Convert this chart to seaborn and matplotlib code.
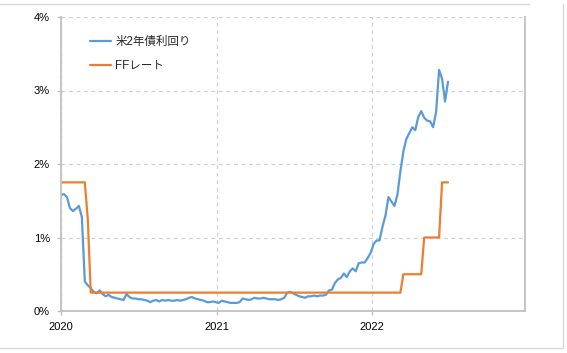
import matplotlib
matplotlib.use('Agg')
import matplotlib.pyplot as plt
import matplotlib.dates as mdates
from matplotlib.lines import Line2D
from matplotlib.ticker import FuncFormatter, MultipleLocator
import pandas as pd
import seaborn as sns

# Data (weekly, Wednesdays, in %)
start_date = '2020-01-01'
n_weeks = 131
yield_2y = [
    1.58, 1.59, 1.55, 1.40, 1.36, 1.39, 1.43, 1.28, 0.40, 0.35,
    0.31, 0.26, 0.24, 0.28, 0.23, 0.20, 0.22, 0.19, 0.18, 0.17,
    0.16, 0.15, 0.23, 0.19, 0.17, 0.17, 0.16, 0.16, 0.15, 0.14,
    0.12, 0.14, 0.15, 0.13, 0.15, 0.14, 0.15, 0.14, 0.14, 0.15,
    0.14, 0.15, 0.16, 0.18, 0.19, 0.17, 0.16, 0.15, 0.14, 0.12,
    0.12, 0.13, 0.12, 0.11, 0.14, 0.13, 0.12, 0.11, 0.11, 0.11,
    0.12, 0.17, 0.16, 0.15, 0.16, 0.18, 0.17, 0.17, 0.18, 0.17,
    0.16, 0.16, 0.16, 0.15, 0.16, 0.18, 0.25, 0.26, 0.24, 0.22,
    0.20, 0.19, 0.18, 0.20, 0.20, 0.21, 0.20, 0.21, 0.21, 0.22,
    0.28, 0.29, 0.38, 0.43, 0.45, 0.51, 0.46, 0.54, 0.58, 0.54,
    0.65, 0.66, 0.66, 0.72, 0.79, 0.91, 0.96, 0.96, 1.15, 1.30,
    1.55, 1.49, 1.43, 1.58, 1.90, 2.17, 2.34, 2.42, 2.50, 2.46,
    2.64, 2.72, 2.63, 2.59, 2.58, 2.50, 2.71, 3.28, 3.16, 2.85,
    3.12,
]

ff_dates = ['2020-01-01', '2020-02-26', '2020-03-04', '2020-03-11',
            '2022-03-09', '2022-03-16', '2022-04-27', '2022-05-04',
            '2022-06-08', '2022-06-15', '2022-06-29']
ff_rate = [1.75, 1.75, 1.25, 0.25, 0.25, 0.50, 0.50, 1.00, 1.00, 1.75, 1.75]

labels = ['米2年債利回り', 'FFレート']
colors = ['#5b9bd5', '#ed7d31']

df_y = pd.DataFrame({'date': pd.date_range(start_date, periods=n_weeks, freq='7D'),
                     'value': yield_2y})
df_ff = pd.DataFrame({'date': pd.to_datetime(ff_dates), 'value': ff_rate})

sns.set_theme(style='white')
plt.rcParams['font.family'] = ['Liberation Sans', 'Noto Sans CJK JP', 'DejaVu Sans']

fig = plt.figure(figsize=(5.67, 3.53), dpi=100)
ax = fig.add_axes([61 / 567, 42 / 353, 464 / 567, 294 / 353])

sns.lineplot(data=df_y, x='date', y='value', color=colors[0], linewidth=1.6, ax=ax)
sns.lineplot(data=df_ff, x='date', y='value', color=colors[1], linewidth=1.6, ax=ax)

ax.set_xlim(pd.Timestamp('2020-01-01'), pd.Timestamp('2022-12-27'))
ax.set_ylim(0, 4)
ax.yaxis.set_major_locator(MultipleLocator(1))
ax.yaxis.set_major_formatter(FuncFormatter(lambda v, p: f'{v:.0f}%'))
ax.xaxis.set_major_locator(mdates.YearLocator())
ax.xaxis.set_major_formatter(mdates.DateFormatter('%Y'))
ax.set_xlabel('')
ax.set_ylabel('')

ax.grid(True, color='#d0d0d0', linestyle=(0, (3, 3)), linewidth=0.9)
for side in ['left', 'bottom', 'right']:
    ax.spines[side].set_color('#c0c0c0')
    ax.spines[side].set_linewidth(1.3)
ax.spines['top'].set_visible(False)
ax.tick_params(axis='both', length=3, width=1, color='#c0c0c0', labelsize=8,
               labelcolor='#000000', left=True, bottom=True)
ax.tick_params(axis='y', pad=5)
ax.tick_params(axis='x', pad=5)

handles = [Line2D([], [], color=c, linewidth=1.6) for c in colors]
ax.legend(handles, labels, loc='upper left', bbox_to_anchor=(0.062, 0.935),
          frameon=False, fontsize=8.3, handlelength=1.8, handletextpad=0.4,
          labelspacing=1.0, borderpad=0, borderaxespad=0)

# outer frame of the screenshot
frame = dict(color='#d9d9d9', linewidth=1, transform=fig.transFigure)
fig.add_artist(Line2D([0, 529 / 567], [1 - 4 / 353, 1 - 4 / 353], **frame))
fig.add_artist(Line2D([0, 563 / 567], [5 / 353, 5 / 353], **frame))
fig.add_artist(Line2D([563 / 567, 563 / 567], [5 / 353, 1 - 4 / 353], **frame))

fig.savefig('out.png', dpi=100)
